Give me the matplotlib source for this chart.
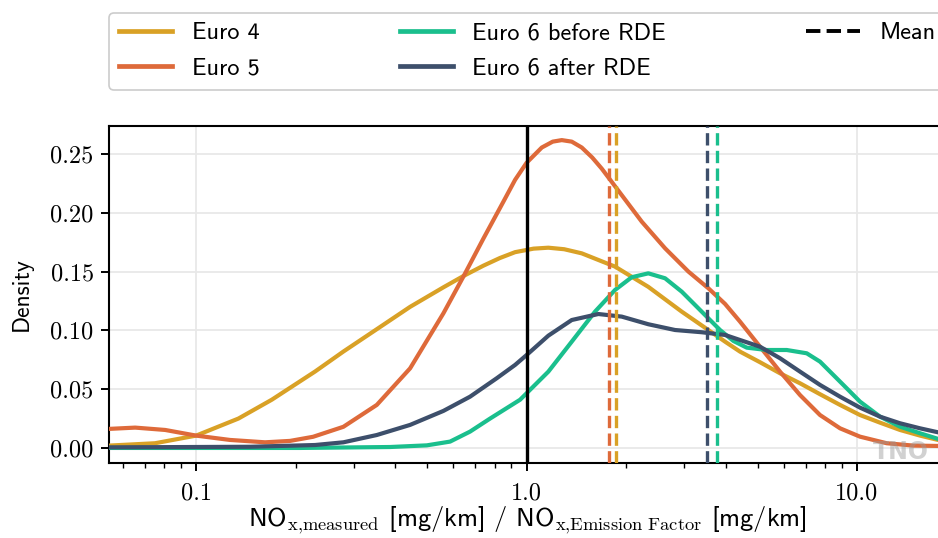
import matplotlib
matplotlib.use("Agg")
import matplotlib.pyplot as plt
from matplotlib.lines import Line2D
from matplotlib.ticker import FixedLocator, LogLocator, NullFormatter

plt.rcParams["mathtext.fontset"] = "cm"
plt.rcParams["axes.formatter.use_mathtext"] = True

# Density curves of NOx conformity ratio per emission standard
euro4_x = [0.0545, 0.0751, 0.1, 0.1343, 0.1694, 0.2291, 0.2791, 0.3522, 0.4442,
           0.5602, 0.6438, 0.74, 0.83, 0.9231, 1.05, 1.164, 1.30, 1.469, 1.853, 2.336,
           2.949, 3.549, 3.987, 4.426, 5.087, 5.848, 6.722, 7.727, 8.884, 10.21, 11.74,
           13.49, 15.51, 17.59, 18.5]
euro4_y = [0.002, 0.004, 0.0105, 0.025, 0.041, 0.065, 0.082, 0.101, 0.120,
           0.1366, 0.1462, 0.155, 0.1615, 0.1665, 0.1695, 0.1703, 0.1690, 0.1655, 0.1542,
           0.137, 0.1159, 0.1003, 0.0904, 0.0819, 0.0729, 0.0635, 0.055, 0.0457, 0.0366,
           0.028, 0.0215, 0.0153, 0.0105, 0.0068, 0.0055]

euro5_x = [0.0545, 0.0654, 0.0806, 0.1, 0.1267, 0.1617, 0.1925, 0.226, 0.2791,
           0.3522, 0.4442, 0.5602, 0.6438, 0.74, 0.8507, 0.9231, 1.0, 1.112, 1.2, 1.278,
           1.37, 1.469, 1.58, 1.689, 1.941, 2.232, 2.625, 3.088, 3.549, 3.987, 4.426,
           5.087, 5.848, 6.722, 7.727, 8.884, 10.21, 12.30, 14.80, 17.59, 18.5]
euro5_y = [0.0162, 0.0173, 0.0153, 0.0105, 0.0068, 0.0048, 0.006, 0.0095, 0.018,
           0.0366, 0.0677, 0.1145, 0.1457, 0.178, 0.2094, 0.228, 0.2425, 0.2555, 0.2605,
           0.2618, 0.2605, 0.2555, 0.247, 0.2375, 0.215, 0.1924, 0.1698, 0.150, 0.1358,
           0.1225, 0.1074, 0.0861, 0.0649, 0.045, 0.028, 0.0167, 0.0096, 0.004, 0.002,
           0.0017, 0.0016]

euro6_before_x = [0.0545, 0.2064, 0.3864, 0.4989, 0.5869, 0.6745, 0.7755, 0.9557,
                  1.164, 1.37, 1.612, 1.853, 2.081, 2.336, 2.625, 2.949, 3.389, 3.85,
                  4.225, 4.638, 5.331, 6.128, 7.044, 7.727, 8.884, 10.21, 11.74,
                  13.49, 15.51, 17.59, 18.5]
euro6_before_y = [0.0, 0.0, 0.0008, 0.0022, 0.0054, 0.0139, 0.025, 0.041,
                  0.0649, 0.0904, 0.116, 0.1344, 0.1452, 0.1485, 0.1443, 0.1329, 0.1159,
                  0.1003, 0.091, 0.0853, 0.0833, 0.0833, 0.0805, 0.0734, 0.0564, 0.0394,
                  0.0266, 0.0181, 0.0125, 0.0077, 0.0062]

euro6_after_x = [0.0545, 0.1457, 0.2291, 0.2791, 0.3522, 0.4442, 0.5602, 0.6745,
                 0.8125, 0.9231, 1.0, 1.164, 1.37, 1.649, 1.941, 2.336, 2.814, 3.389,
                 3.987, 4.426, 5.087, 5.848, 6.722, 7.727, 8.884, 10.21, 11.74, 13.49,
                 15.51, 17.59, 18.5]
euro6_after_y = [0.0005, 0.001, 0.0025, 0.0048, 0.011, 0.0196, 0.0315, 0.0436,
                 0.0593, 0.0706, 0.0790, 0.0955, 0.1088, 0.1139, 0.1117, 0.1052, 0.1003,
                 0.0984, 0.0961, 0.0918, 0.0861, 0.0763, 0.0649, 0.0536, 0.0436, 0.0343,
                 0.0266, 0.021, 0.0167, 0.0133, 0.012]

labels = ["Euro 4", "Euro 5", "Euro 6 before RDE", "Euro 6 after RDE"]
colors = ["#D9A126", "#DE6A3A", "#1ABF8D", "#3D4F6B"]
means = [1.862, 1.781, 3.78, 3.51]

W, H = 938, 538
fig = plt.figure(figsize=(W / 100, H / 100), dpi=100)
ax = fig.add_axes([109 / W, (H - 463) / H, (945 - 109) / W, (463 - 126) / H])

series = [(euro4_x, euro4_y), (euro5_x, euro5_y),
          (euro6_before_x, euro6_before_y), (euro6_after_x, euro6_after_y)]
for (xs, ys), c in zip(series, colors):
    ax.plot(xs, ys, color=c, lw=3.0, zorder=3, solid_capstyle="round",
            solid_joinstyle="round")

for m, c in zip(means, colors):
    ax.axvline(m, color=c, lw=2.4, ls="--", zorder=4)

ax.axvline(1.0, color="black", lw=2.4, zorder=5)

ax.set_xscale("log")
ax.set_xlim(0.0545, 18.46)
ax.set_ylim(-0.0128, 0.2738)

ax.xaxis.set_major_locator(FixedLocator([0.1, 1.0, 10.0]))
ax.xaxis.set_minor_locator(LogLocator(base=10, subs=range(2, 10)))
ax.xaxis.set_minor_formatter(NullFormatter())
ax.set_xticklabels(["0.1", "1.0", "10.0"])
yticks = [0.0, 0.05, 0.10, 0.15, 0.20, 0.25]
ax.set_yticks(yticks)
ax.set_yticklabels([f"{v:.2f}" for v in yticks])
for t in ax.get_xticklabels() + ax.get_yticklabels():
    t.set_fontfamily("cmr10")
    t.set_fontsize(17.5)

ax.tick_params(which="major", length=6, width=1.4, direction="out", color="black", pad=5)
ax.tick_params(which="minor", length=3.5, width=1.0, direction="out", color="black")
ax.tick_params(axis="x", which="major", pad=8)

ax.grid(True, which="major", color="#e8e8e8", lw=1.3, zorder=0)
ax.set_axisbelow(True)
for s in ax.spines.values():
    s.set_linewidth(1.5)
    s.set_color("black")

ax.set_ylabel("Density", fontfamily="cmss10", fontsize=17)
ax.yaxis.set_label_coords(-0.091, 0.5)
ax.set_xlabel(r"NO$_{\mathrm{x{,}measured}}$ [mg/km] / NO$_{\mathrm{x{,}Emission\ Factor}}$ [mg/km]",
              fontfamily="cmss10", fontsize=19, labelpad=0)

handles = [Line2D([], [], color=c, lw=3.4) for c in colors]
handles.append(Line2D([], [], color="black", lw=2.8, ls="--"))
leg_labels = labels + ["Mean"]
leg = fig.legend(handles, leg_labels, ncol=3, mode="expand", loc="upper left",
                 bbox_to_anchor=(109 / W, 1 - 91 / H, (945 - 109) / W, (91 - 12.7) / H),
                 bbox_transform=fig.transFigure, borderaxespad=0,
                 prop={"family": "cmss10", "size": 17.5},
                 handlelength=2.2, handletextpad=0.8, labelspacing=0.55, borderpad=0.4,
                 frameon=True, fancybox=True, edgecolor="#cccccc", framealpha=1)
leg.get_frame().set_linewidth(1.2)

fig.text(873 / W, 79 / H, "TNO", fontsize=17, fontweight="bold", color="#9a9a9a",
         alpha=0.45, family="DejaVu Sans", zorder=10)

fig.savefig("out.png", dpi=100)
